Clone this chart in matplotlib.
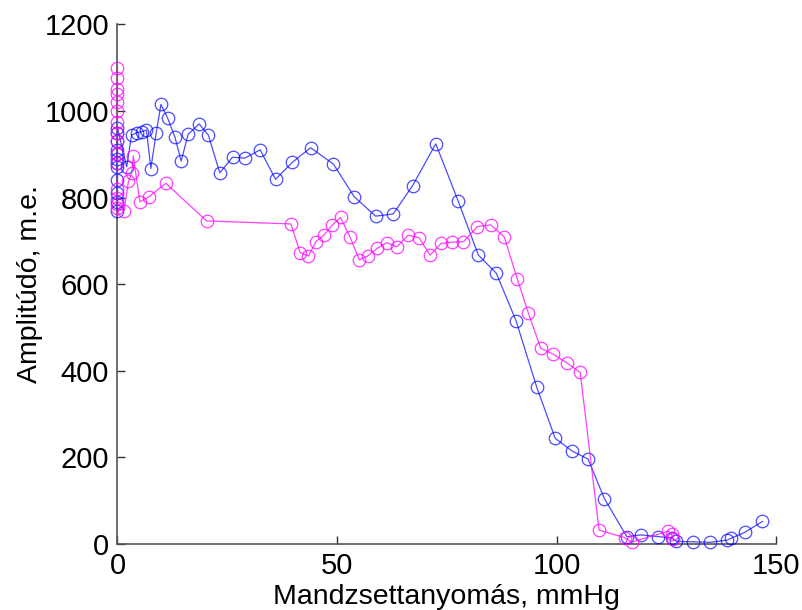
import matplotlib
matplotlib.use("Agg")
import matplotlib.pyplot as plt

plt.rcParams['font.family'] = ['Liberation Sans', 'DejaVu Sans']

# Blue series (cuff pressure mmHg, amplitude)
blue_x = [0, 0, 0, 0, 0, 0, 0, 0, 0, 0, 0, 0,
          2.1, 3.2, 4.5, 5.5, 6.6, 7.6, 8.8, 9.9, 11.4, 13.1, 14.5, 16.1, 18.6, 20.7,
          23.3, 26.2, 29.0, 32.5, 36.0, 39.8, 44.0, 49.2, 53.9, 58.8, 62.8, 67.2, 72.5,
          77.6, 82.2, 86.3, 90.8, 95.5, 99.7, 103.5, 107.2, 110.9, 116.0, 119.2, 123.2,
          126.3, 127.3, 131.2, 135.0, 138.9, 139.7, 142.9, 146.9]
blue_y = [770, 790, 810, 840, 870, 880, 890, 900, 910, 930, 950, 960,
          871, 944, 950, 952, 956, 867, 948, 1015, 984, 939, 884, 946, 970, 944,
          857, 893, 891, 910, 842, 881, 915, 877, 802, 757, 762, 827, 924,
          792, 667, 625, 515, 362, 244, 215, 196, 105, 17, 21, 17,
          14, 6, 5, 4, 9, 13, 27, 52]

# Magenta series
mag_x = [0, 0, 0, 0, 0, 0, 0, 0, 0, 0, 0, 0, 0, 0, 0,
         1.5, 2.5, 3.2, 3.6, 5.1, 7.2, 11.0, 20.3, 39.5, 41.6, 43.5, 45.2, 47.0,
         48.9, 50.8, 53.0, 55.1, 57.0, 59.2, 61.3, 63.6, 66.2, 68.7, 71.2, 73.7,
         76.3, 78.8, 82.0, 85.0, 88.1, 91.1, 93.6, 96.4, 99.3, 102.5, 105.4,
         109.7, 115.5, 117.1, 125.5, 126.2, 126.6]
mag_y = [1100, 1075, 1050, 1040, 1020, 1000, 975, 950, 930, 900, 880, 820, 800, 785, 775,
         770, 837, 856, 896, 790, 802, 833, 746, 739, 673, 665, 698, 713,
         736, 754, 708, 656, 665, 683, 696, 686, 713, 707, 667, 694,
         697, 698, 733, 737, 709, 611, 533, 452, 438, 417, 396,
         32, 15, 4, 30, 22, 12]

x_ticks = [0, 50, 100, 150]
y_ticks = [0, 200, 400, 600, 800, 1000, 1200]

fig = plt.figure(figsize=(8.03, 6.10), dpi=100)
ax = fig.add_axes([0.1463, 0.1082, 0.8201, 0.8520])

ax.plot(blue_x, blue_y, color='#0000ff', lw=0.9, marker='o', ms=9,
        mfc='none', mec='#0000ff', mew=0.9, alpha=0.7, clip_on=False, zorder=3)
ax.plot(mag_x, mag_y, color='#ff00ff', lw=0.9, marker='o', ms=9,
        mfc='none', mec='#ff00ff', mew=0.9, alpha=0.75, clip_on=False, zorder=4)

ax.set_xlim(0, 150)
ax.set_ylim(0, 1200)
ax.set_xticks(x_ticks)
ax.set_yticks(y_ticks)
ax.spines['top'].set_visible(False)
ax.spines['right'].set_visible(False)
for s in ('left', 'bottom'):
    ax.spines[s].set_color('#555555')
    ax.spines[s].set_linewidth(1.2)
ax.tick_params(direction='in', length=6, width=1, colors='#333333',
               labelcolor='black', labelsize=21, pad=6)
ax.set_xlabel('Mandzsettanyomás, mmHg', fontsize=20.5, labelpad=3)
ax.set_ylabel('Amplitúdó, m.e.', fontsize=20.5, labelpad=1)

fig.savefig('out.png', dpi=100)
